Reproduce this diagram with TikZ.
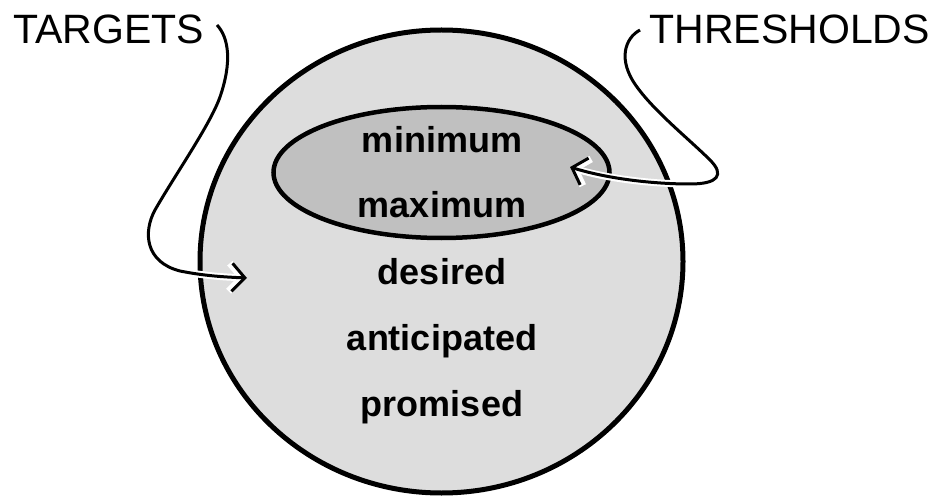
\documentclass[tikz,border=0pt]{standalone}
\usepackage{fontspec}
\setmainfont{Liberation Sans}
\usetikzlibrary{shapes.geometric,arrows.meta}
\definecolor{outerfill}{RGB}{221,221,221}
\definecolor{innerfill}{RGB}{192,192,192}
\tikzset{
  zone/.style={ellipse, draw=black, inner sep=0pt, outer sep=0pt},
  item/.style={anchor=base, inner sep=0pt, font=\fontsize{36}{40}\selectfont\bfseries},
  caption/.style={anchor=base west, inner sep=0pt, font=\fontsize{41}{46}\selectfont},
  pointer/.style={line width=3pt, line join=round,
    -{Straight Barb[length=13pt,width=28pt]},
    preaction={draw=white, line width=7pt}},
}
\begin{document}
\begin{tikzpicture}[x=1pt,y=-1pt]
\useasboundingbox (0,0) rectangle (935,500);

% the two nested sets
\node[zone, fill=outerfill, line width=5pt, minimum width=483pt, minimum height=463pt] (set) at (441.5,261.5) {};
\node[zone, fill=innerfill, line width=4.5pt, minimum width=336pt, minimum height=131pt] (core) at (441.5,172.5) {};

% members
\node[item] (min)  at (442,153) {minimum};
\node[item] (max)  at (442,218) {maximum};
\node[item] (des)  at (442,284) {desired};
\node[item] (ant)  at (442,350) {anticipated};
\node[item] (prom) at (442,416) {promised};

% captions
\node[caption] (targets) at (13,44) {TARGETS};
\node[caption, anchor=base east] (thresholds) at (930,44) {THRESHOLDS};

% connector ends
\coordinate (tgstart) at (217,25);
\coordinate (tgend)   at (247,278);
\coordinate (thstart) at (640,30);
\coordinate (thend)   at (570,167);

% pointers
\draw[pointer] (tgstart)
  .. controls (229,38) and (232,62) .. (220,97)
  .. controls (210,125) and (175,175) .. (155,210)
  .. controls (143,232) and (145,262) .. (180,271)
  .. controls (205,276) and (225,277) .. (tgend);
\draw[pointer] (thstart)
  .. controls (625,38) and (617,60) .. (637,87)
  .. controls (655,112) and (690,140) .. (710,160)
  .. controls (725,175) and (718,184) .. (690,184)
  .. controls (650,184) and (605,178) .. (thend);
\end{tikzpicture}
\end{document}
